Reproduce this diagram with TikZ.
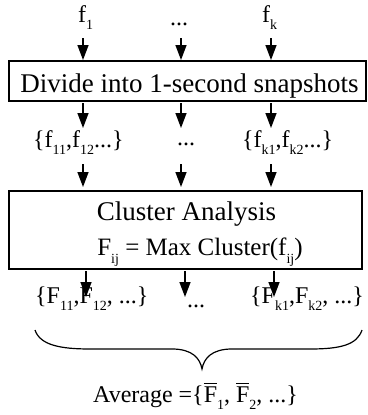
\documentclass[tikz,border=0pt]{standalone}
\usepackage{fontspec}
\setmainfont{Liberation Serif}
\usetikzlibrary{arrows.meta}
\newcommand\sbs[2][14]{\raisebox{-0.33em}{\fontsize{#1}{#1}\selectfont #2}}
\newcommand\Fbar{\makebox[0pt][l]{\rule[0.74em]{0.54em}{0.06em}}F}
\begin{document}
\begin{tikzpicture}[x=1pt,y=-1pt,
  lbl/.style={inner sep=0pt,anchor=base west,font=\fontsize{24}{28}\selectfont},
  dots/.style={inner sep=0pt,anchor=base,font=\fontsize{24}{28}\selectfont},
  boxtxt/.style={inner sep=0pt,anchor=base,font=\fontsize{27}{32}\selectfont},
  procbox/.style={draw,line width=1.6pt,inner sep=0pt},
  flow/.style={line width=1.4pt,-{Triangle[length=15pt,width=11pt]}},
  bracepath/.style={line width=1.2pt}]
\useasboundingbox (0,0) rectangle (367,415);
% top labels
\node[lbl] (f1) at (78,22) {f\sbs{1}};
\node[dots] (d1) at (179,25) {...};
\node[lbl] (fk) at (262,22) {f\sbs{k}};
% box 1
\node[procbox,minimum width=357pt,minimum height=40pt] (box1) at (187.5,81) {};
\node[boxtxt] (t1) at (189.5,92) {Divide into 1-second snapshots};
% row 2 labels
\node[lbl] (s1) at (33,147) {\{f\sbs{11},f\sbs{12}...\}};
\node[dots] (d2) at (186,145) {...};
\node[lbl] (sk) at (242,147) {\{f\sbs{k1},f\sbs{k2}...\}};
% box 2
\node[procbox,minimum width=353pt,minimum height=78pt] (box2) at (185.5,230) {};
\node[boxtxt] (c1) at (186.5,220) {Cluster Analysis};
\node[boxtxt,font=\fontsize{25}{30}\selectfont] (c2) at (200,255) {F\sbs{ij} = Max Cluster(f\sbs{ij})};
% row 4 labels
\node[lbl] (g1) at (35,303) {\{F\sbs{11},F\sbs{12}, ...\}};
\node[dots] (d4) at (196,307) {...};
\node[lbl] (gk) at (250,303) {\{F\sbs{k1},F\sbs{k2}, ...\}};
% average
\node[lbl] (avg) at (93,402) {Average =\{\Fbar\sbs{1}, \Fbar\sbs{2}, ...\}};
% arrow coordinates
\foreach \n/\x in {a/83,b/181,c/271}{
  \coordinate (r1\n s) at (\x,38);  \coordinate (r1\n e) at (\x,60);
  \coordinate (r2\n s) at (\x,103); \coordinate (r2\n e) at (\x,128);
  \coordinate (r3\n s) at (\x,164); \coordinate (r3\n e) at (\x,187);
}
\foreach \n/\x in {a/86,b/185,c/274}{
  \coordinate (r4\n s) at (\x,271); \coordinate (r4\n e) at (\x,297);
}
\foreach \r in {1,2,3,4}{
  \foreach \n in {a,b,c}{
    \draw[flow] (r\r\n s) -- (r\r\n e);
  }
}
% brace
\coordinate (bl) at (35,330);
\coordinate (bt) at (202,369);
\coordinate (br) at (362,330);
\draw[bracepath] (bl) .. controls (40,345) and (60,349) .. (90,349) -- (172,349)
  .. controls (192,349) and (200,358) .. (bt)
  .. controls (204,358) and (212,349) .. (232,349) -- (310,349)
  .. controls (340,349) and (357,345) .. (br);
\end{tikzpicture}
\end{document}
